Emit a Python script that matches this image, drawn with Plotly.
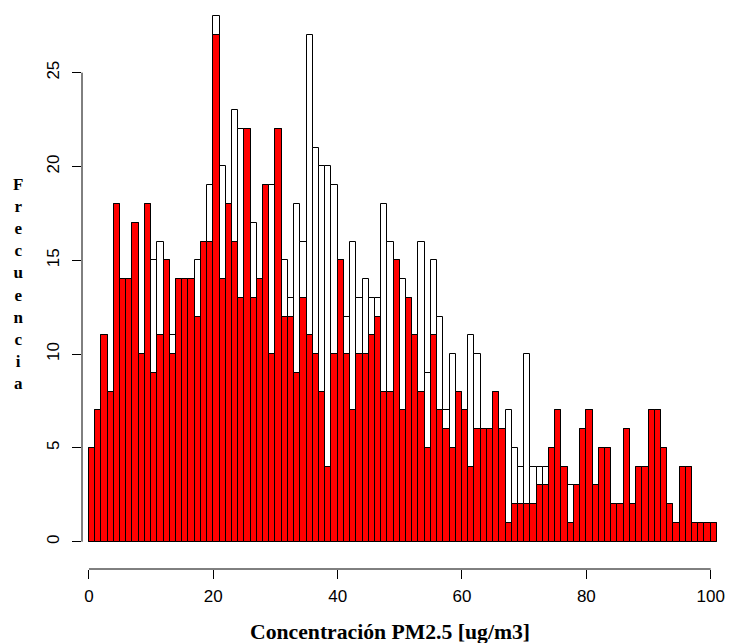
import plotly.graph_objects as go

# Bin left edges (width 1, from 0 to 100)
bins = list(range(0, 101))

# Total frequency (white bars, drawn behind)
total = [5, 7, 11, 8, 18, 14, 14, 17, 10, 18,
         15, 16, 15, 11, 14, 14, 14, 15, 16, 19,
         28, 20, 18, 23, 22, 22, 17, 14, 19, 19,
         22, 15, 13, 18, 16, 27, 21, 20, 20, 19,
         15, 12, 16, 13, 14, 13, 13, 18, 16, 15,
         14, 13, 11, 16, 9, 15, 12, 7, 10, 8,
         7, 11, 10, 6, 6, 8, 6, 7, 5, 4,
         10, 4, 4, 4, 5, 7, 4, 3, 3, 6,
         7, 3, 5, 5, 2, 2, 6, 2, 4, 4,
         7, 7, 5, 2, 1, 4, 4, 1, 1, 1, 1]

# Subset frequency (red bars, drawn on top)
subset = [5, 7, 11, 8, 18, 14, 14, 17, 10, 18,
          9, 11, 15, 10, 14, 14, 14, 12, 16, 16,
          27, 14, 18, 16, 13, 22, 13, 14, 19, 10,
          22, 12, 12, 9, 13, 11, 10, 8, 4, 10,
          15, 10, 7, 10, 10, 11, 12, 8, 8, 15,
          7, 13, 11, 8, 5, 11, 7, 6, 5, 8,
          7, 4, 6, 6, 6, 8, 6, 1, 2, 2,
          2, 2, 3, 3, 5, 7, 4, 1, 3, 6,
          7, 3, 5, 5, 2, 2, 6, 2, 4, 4,
          7, 7, 5, 2, 1, 4, 4, 1, 1, 1, 1]

x_ticks = [0, 20, 40, 60, 80, 100]
y_ticks = [0, 5, 10, 15, 20, 25]

fig = go.Figure()
fig.add_trace(go.Bar(x=bins, y=total, width=1, offset=0,
                     marker=dict(color="white", line=dict(color="black", width=1)),
                     showlegend=False, hoverinfo="x+y"))
fig.add_trace(go.Bar(x=bins, y=subset, width=1, offset=0,
                     marker=dict(color="#FF0000", line=dict(color="black", width=1)),
                     showlegend=False, hoverinfo="x+y"))

tick_font = dict(family="Liberation Sans, Arial, sans-serif", size=17, color="black")
title_font = dict(family="Liberation Serif, Times New Roman, serif", size=21.7, color="black")

fig.update_layout(
    width=732, height=643,
    margin=dict(l=82, r=7, t=7, b=74),
    paper_bgcolor="white", plot_bgcolor="white",
    barmode="overlay", bargap=0,
    xaxis=dict(range=[-1.12, 101.66], tickvals=x_ticks, showgrid=False, zeroline=False,
               showline=False, ticks="outside", ticklen=9, tickcolor="black", tickwidth=1,
               tickfont=tick_font, ticklabelstandoff=3),
    yaxis=dict(range=[-1.455, 28.5], tickvals=y_ticks, showgrid=False, zeroline=False,
               showline=False, ticks="outside", ticklen=9, tickcolor="black", tickwidth=1,
               tickfont=tick_font, tickangle=-90, ticklabelstandoff=6),
    shapes=[
        dict(type="line", xref="x", yref="paper", x0=0, x1=100, y0=0, y1=0,
             line=dict(color="black", width=1)),
        dict(type="line", xref="paper", yref="y", x0=0, x1=0, y0=0, y1=25,
             line=dict(color="black", width=1)),
    ],
    annotations=[
        dict(text="<b>Concentración PM2.5 [ug/m3]</b>", xref="paper", yref="paper",
             x=0.482, y=-0.112, xanchor="center", yanchor="middle", showarrow=False,
             font=title_font),
        dict(text="<b>F<br>r<br>e<br>c<br>u<br>e<br>n<br>c<br>i<br>a</b>",
             xref="paper", yref="paper", x=-0.100, y=0.508, xanchor="center",
             yanchor="middle", showarrow=False, align="center",
             font=dict(family="Liberation Serif, Times New Roman, serif", size=17, color="black")),
    ],
)

fig.write_html("out.html")
